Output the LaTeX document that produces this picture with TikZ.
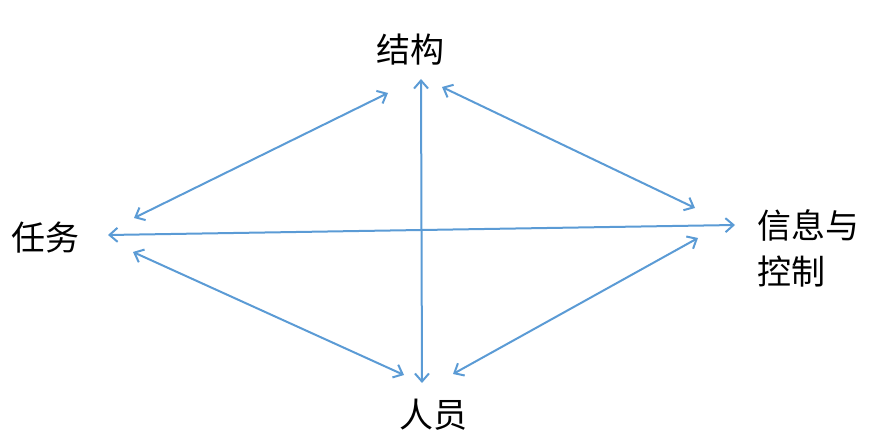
\documentclass[tikz,border=0pt]{standalone}
\usepackage{fontspec}
\setmainfont{Noto Sans CJK SC}
\usetikzlibrary{arrows.meta}
\definecolor{arrowblue}{HTML}{5B9BD5}
\begin{document}
\begin{tikzpicture}[x=1pt,y=-1pt,
  lbl/.style={font=\fontsize{34}{46}\selectfont, inner sep=0pt, align=left, text=black},
  link/.style={draw=arrowblue, line width=2pt, {Straight Barb[length=8pt,width=14pt]}-{Straight Barb[length=8pt,width=14pt]}}]
\useasboundingbox (0,0) rectangle (873,444);
\node[lbl] (jg) at (410,50) {结构};
\node[lbl] (rw) at (46,238) {任务};
\node[lbl, anchor=west] (xx) at (757,248) {信息与\\控制};
\node[lbl] (ry) at (433,415) {人员};
% arrow end points
\coordinate (a1) at (388,93);
\coordinate (a2) at (134,218);
\coordinate (b1) at (421,79);
\coordinate (b2) at (422,383);
\coordinate (c1) at (442,87);
\coordinate (c2) at (695,208);
\coordinate (d1) at (108,235);
\coordinate (d2) at (735,225);
\coordinate (e1) at (133,252);
\coordinate (e2) at (404,375);
\coordinate (f1) at (453,374);
\coordinate (f2) at (698,238);
\draw[link] (a1) -- (a2);
\draw[link] (b1) -- (b2);
\draw[link] (c1) -- (c2);
\draw[link] (d1) -- (d2);
\draw[link] (e1) -- (e2);
\draw[link] (f1) -- (f2);
\end{tikzpicture}
\end{document}
